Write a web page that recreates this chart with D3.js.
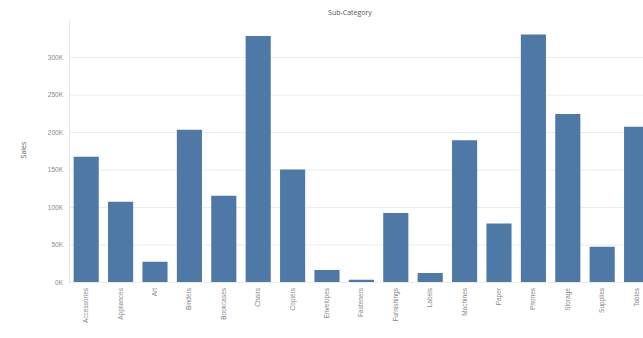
<!DOCTYPE html>
<html><head><meta charset="utf-8">
<script src="https://cdn.jsdelivr.net/npm/d3@7"></script>
<style>body{margin:0;background:#fff;overflow:hidden}svg{display:block;font-family:"Open Sans",Arial,sans-serif}</style>
</head><body><svg id="c" width="643" height="338"></svg>
<script>
const categories = ["Accessories","Appliances","Art","Binders","Bookcases","Chairs","Copiers","Envelopes","Fasteners","Furnishings","Labels","Machines","Paper","Phones","Storage","Supplies","Tables"];
const sales = [167,107,27,203,115,328,150,16,3,92,12,189,78,330,224,47,207];
const yTicks = [0,50,100,150,200,250,300];

(function(){
const svg = d3.select("#c");
const mLeft = 69, mTop = 20, mBottom = 282;
const step = 34.4;
const x = d3.scaleBand().domain(categories).range([mLeft, mLeft + step*categories.length]).paddingInner(0.27).paddingOuter(0.135);
const y = d3.scaleLinear().domain([0, 349]).range([mBottom, mBottom - 349*0.75]);

svg.append("g").selectAll("line").data(yTicks).join("line")
  .attr("x1", mLeft).attr("x2", 643).attr("y1", d=>y(d)+0.5).attr("y2", d=>y(d)+0.5)
  .attr("stroke", "#ececec").attr("stroke-width", 1);

svg.append("line").attr("x1", mLeft+0.5).attr("x2", mLeft+0.5).attr("y1", mTop).attr("y2", mBottom)
  .attr("stroke", "#e6e6e6");

const ya = svg.append("g").attr("transform", `translate(${mLeft},0)`)
  .call(d3.axisLeft(y).tickValues(yTicks).tickFormat(d=>d+"K").tickSize(0).tickPadding(6));
ya.select(".domain").remove();
ya.selectAll("text").attr("fill", "#888").style("font-size", "6.5px");

svg.append("g").selectAll("rect").data(categories).join("rect")
  .attr("x", d=>x(d)).attr("width", x.bandwidth())
  .attr("y", (d,i)=>y(sales[i])).attr("height", (d,i)=>mBottom - y(sales[i]))
  .attr("fill", "#4e79a7");

const xa = svg.append("g").attr("transform", `translate(0,${mBottom})`)
  .call(d3.axisBottom(x).tickSize(0).tickPadding(0));
xa.select(".domain").remove();
xa.selectAll("text").attr("fill", "#888").style("font-size", "6.5px")
  .attr("text-anchor", "end").attr("dy", "0.32em")
  .attr("transform", "translate(0,6) rotate(-90)").attr("x", 0).attr("y", 0);

svg.append("text").attr("x", 350).attr("y", 15).attr("text-anchor", "middle")
  .attr("fill", "#555").style("font-size", "7px").text("Sub-Category");
svg.append("text").attr("transform", "translate(26,150) rotate(-90)").attr("text-anchor", "middle")
  .attr("fill", "#555").style("font-size", "7px").text("Sales");
})();
</script></body></html>
